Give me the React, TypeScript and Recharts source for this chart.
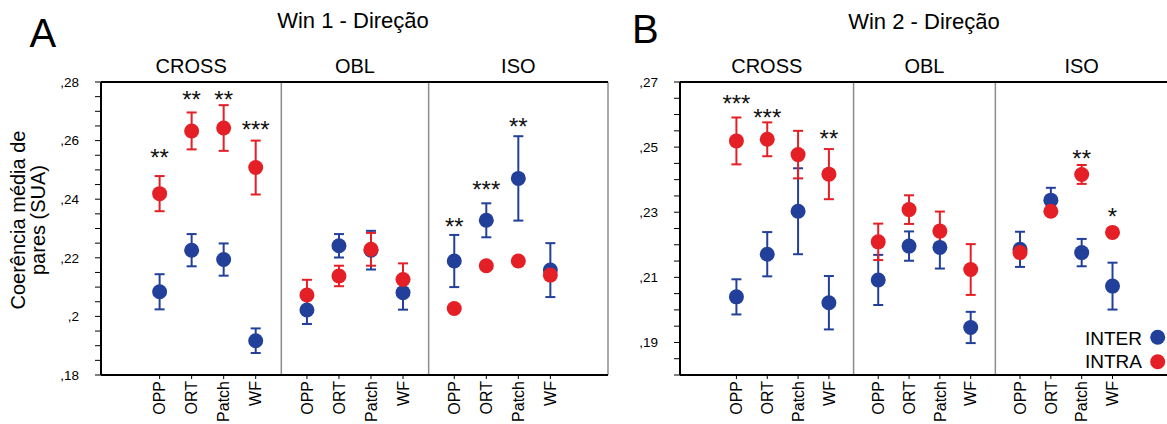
import React from 'react';
import {
  ComposedChart,
  Scatter,
  XAxis,
  YAxis,
  ErrorBar,
  ReferenceLine,
  ReferenceArea,
} from 'recharts';

const FONT = 'Liberation Sans, Arial, Helvetica, sans-serif';
const BLUE = '#22409a';
const RED = '#e41f25';

const groups = ['CROSS', 'OBL', 'ISO'];
const categories = ['OPP', 'ORT', 'Patch', 'WF'];

// order: CROSS (OPP, ORT, Patch, WF), OBL (...), ISO (...)
const win1InterMean = [0.2084, 0.2226, 0.2194, 0.1917, 0.2022, 0.2241, 0.2226, 0.2081, 0.2189, 0.2328, 0.2471, 0.2158];
const win1InterErr = [0.006, 0.0055, 0.0055, 0.0042, 0.0048, 0.004, 0.0066, 0.0058, 0.0089, 0.0058, 0.0144, 0.0092];
const win1IntraMean = [0.2419, 0.2633, 0.2643, 0.2508, 0.2073, 0.2138, 0.2229, 0.2126, 0.2027, 0.2173, 0.2189, 0.2141];
const win1IntraErr = [0.006, 0.0063, 0.0078, 0.0092, 0.0052, 0.0035, 0.0056, 0.0055, 0.0006, 0.0006, 0.0008, 0.0008];

const win2InterMean = [0.204, 0.2171, 0.2303, 0.2022, 0.2092, 0.2196, 0.2192, 0.1946, 0.2186, 0.2337, 0.2176, 0.2073];
const win2InterErr = [0.0054, 0.0068, 0.0132, 0.0082, 0.0077, 0.0045, 0.0065, 0.0048, 0.0054, 0.0038, 0.0042, 0.0072];
const win2IntraMean = [0.2519, 0.2524, 0.2477, 0.2417, 0.2209, 0.2308, 0.2242, 0.2124, 0.2176, 0.2303, 0.2416, 0.2238];
const win2IntraErr = [0.0072, 0.0052, 0.0073, 0.0077, 0.0056, 0.0044, 0.006, 0.0078, 0.001, 0.0008, 0.0029, 0.0012];

// significance marks: group index, category index, label, vertical position
const win1Sig = [
  { g: 0, c: 0, label: '**', y: 0.2556 },
  { g: 0, c: 1, label: '**', y: 0.2757 },
  { g: 0, c: 2, label: '**', y: 0.2757 },
  { g: 0, c: 3, label: '***', y: 0.2652 },
  { g: 2, c: 0, label: '**', y: 0.2323 },
  { g: 2, c: 1, label: '***', y: 0.2448 },
  { g: 2, c: 2, label: '**', y: 0.2664 },
];
const win2Sig = [
  { g: 0, c: 0, label: '***', y: 0.2647 },
  { g: 0, c: 1, label: '***', y: 0.2605 },
  { g: 0, c: 3, label: '**', y: 0.2539 },
  { g: 2, c: 2, label: '**', y: 0.248 },
  { g: 2, c: 3, label: '*', y: 0.2301 },
];

const win1YLabels = [0.18, 0.2, 0.22, 0.24, 0.26, 0.28];
const win2YLabels = [0.19, 0.21, 0.23, 0.25, 0.27];

// layout constants
const GROUP_STEP = 4.6;
const X_MIN = -1.83;
const X_MAX = 14.0;
const Y_MINOR = 0.005;

const pos = (g: number, c: number) => g * GROUP_STEP + c;

const fmtY = (v: number) => {
  let s = v.toFixed(2).replace(/0+$/, '');
  s = s.replace(/^0\./, ',');
  return s;
};

const dotShape = (color: string) => (p: any) => (
  <circle cx={p.cx} cy={p.cy} r={7.5} fill={color} />
);

const starShape = (p: any) => (
  <text
    x={p.cx}
    y={p.cy + 13}
    textAnchor="middle"
    fontSize={24}
    fontFamily={FONT}
    fill="#111"
  >
    {p.payload.label}
  </text>
);

type PanelProps = {
  interMean: number[];
  interErr: number[];
  intraMean: number[];
  intraErr: number[];
  sig: { g: number; c: number; label: string; y: number }[];
  yDomain: [number, number];
  yLabels: number[];
  width: number;
  margin: { top: number; right: number; bottom: number; left: number };
};

function Panel(props: PanelProps) {
  const { interMean, interErr, intraMean, intraErr, sig, yDomain, yLabels, width, margin } = props;
  const xTicks: number[] = [];
  const names = new Map<string, string>();
  groups.forEach((_, g) =>
    categories.forEach((cat, c) => {
      const x = pos(g, c);
      xTicks.push(x);
      names.set(x.toFixed(3), cat);
    })
  );
  const inter = xTicks.map((x, i) => ({ x, y: interMean[i], err: interErr[i] }));
  const intra = xTicks.map((x, i) => ({ x, y: intraMean[i], err: intraErr[i] }));
  const stars = sig.map((s) => ({ x: pos(s.g, s.c), y: s.y, label: s.label }));

  const yTicks: number[] = [];
  const n = Math.round((yDomain[1] - yDomain[0]) / Y_MINOR);
  for (let i = 0; i <= n; i++) yTicks.push(+(yDomain[0] + i * Y_MINOR).toFixed(4));

  const dividers = groups.slice(0, -1).map((_, g) => (pos(g, categories.length - 1) + pos(g + 1, 0)) / 2);
  const bounds = [X_MIN, ...dividers, X_MAX];

  const RotTick = (tp: any) => {
    const { x, y, payload } = tp;
    const label = names.get(Number(payload.value).toFixed(3)) || '';
    return (
      <text
        x={x}
        y={y}
        transform={`rotate(-90 ${x} ${y})`}
        textAnchor="end"
        dy="0.36em"
        fontSize={16}
        fontFamily={FONT}
        fill="#000"
      >
        {label}
      </text>
    );
  };

  return (
    <ComposedChart width={width} height={424} margin={margin}>
      {groups.map((gName, g) => (
        <ReferenceArea
          key={gName}
          x1={bounds[g]}
          x2={bounds[g + 1]}
          fill="#fff"
          fillOpacity={0}
          stroke="none"
          ifOverflow="visible"
          label={{ value: gName, position: 'top', offset: 9, fontSize: 20, fill: '#000', fontFamily: FONT }}
        />
      ))}
      <XAxis
        dataKey="x"
        type="number"
        domain={[X_MIN, X_MAX]}
        ticks={xTicks}
        interval={0}
        allowDataOverflow
        height={49}
        tickSize={4}
        tickMargin={2}
        axisLine={{ stroke: '#000', strokeWidth: 2 }}
        tickLine={{ stroke: '#000', strokeWidth: 1 }}
        tick={<RotTick />}
      />
      <XAxis
        xAxisId="top"
        orientation="top"
        dataKey="x"
        type="number"
        domain={[X_MIN, X_MAX]}
        ticks={xTicks}
        interval={0}
        allowDataOverflow
        height={1}
        tickSize={3}
        axisLine={{ stroke: '#000', strokeWidth: 2 }}
        tickLine={{ stroke: '#000', strokeWidth: 1 }}
        tick={false}
      />
      <YAxis
        dataKey="y"
        type="number"
        domain={yDomain}
        ticks={yTicks}
        interval={0}
        allowDataOverflow
        width={60}
        tickSize={6}
        tickMargin={16}
        axisLine={{ stroke: '#000', strokeWidth: 2 }}
        tickLine={{ stroke: '#000', strokeWidth: 1 }}
        tick={{ fontSize: 13.5, fill: '#000', fontFamily: FONT }}
        tickFormatter={(v: number) => (yLabels.some((l) => Math.abs(l - v) < 1e-6) ? fmtY(v) : '')}
      />
      {dividers.map((d) => (
        <ReferenceLine key={d} x={d} stroke="#8c8c8c" strokeWidth={1.5} />
      ))}
      <ReferenceLine x={X_MAX} stroke="#8c8c8c" strokeWidth={1.5} />
      <ReferenceLine y={yDomain[1]} stroke="#000" strokeWidth={2} />
      <ReferenceLine y={yDomain[0]} stroke="#000" strokeWidth={2} />
      <ReferenceLine x={X_MIN} stroke="#000" strokeWidth={2} />
      <Scatter data={inter} isAnimationActive={false} shape={dotShape(BLUE)}>
        <ErrorBar dataKey="err" direction="y" width={5} stroke={BLUE} strokeWidth={2} />
      </Scatter>
      <Scatter data={intra} isAnimationActive={false} shape={dotShape(RED)}>
        <ErrorBar dataKey="err" direction="y" width={5} stroke={RED} strokeWidth={2} />
      </Scatter>
      <Scatter data={stars} isAnimationActive={false} shape={starShape} />
    </ComposedChart>
  );
}

export default function App() {
  return (
    <div
      style={{
        position: 'absolute',
        left: 0,
        top: 0,
        width: 1167,
        height: 424,
        overflow: 'hidden',
        background: '#fff',
        fontFamily: FONT,
      }}
    >
      <div style={{ position: 'absolute', left: 0, top: 0 }}>
        <Panel
          interMean={win1InterMean}
          interErr={win1InterErr}
          intraMean={win1IntraMean}
          intraErr={win1IntraErr}
          sig={win1Sig}
          yDomain={[0.18, 0.28]}
          yLabels={win1YLabels}
          width={640}
          margin={{ top: 81, right: 32, bottom: 0, left: 41 }}
        />
      </div>
      <div style={{ position: 'absolute', left: 600, top: 0 }}>
        <Panel
          interMean={win2InterMean}
          interErr={win2InterErr}
          intraMean={win2IntraMean}
          intraErr={win2IntraErr}
          sig={win2Sig}
          yDomain={[0.18, 0.27]}
          yLabels={win2YLabels}
          width={600}
          margin={{ top: 81, right: 32, bottom: 0, left: 20 }}
        />
      </div>
      <svg
        width={1167}
        height={424}
        style={{ position: 'absolute', left: 0, top: 0, pointerEvents: 'none' }}
      >
        <text x={29.5} y={47} fontSize={40} fontFamily={FONT} fill="#000">A</text>
        <text x={632} y={43} fontSize={40} fontFamily={FONT} fill="#000">B</text>
        <text x={353} y={28.3} textAnchor="middle" fontSize={22} fontFamily={FONT} fill="#000">
          Win 1 - Direção
        </text>
        <text x={924} y={29} textAnchor="middle" fontSize={22} fontFamily={FONT} fill="#000">
          Win 2 - Direção
        </text>
        <text
          x={25}
          y={220}
          transform="rotate(-90 25 220)"
          textAnchor="middle"
          fontSize={20}
          fontFamily={FONT}
          fill="#000"
        >
          Coerência média de
        </text>
        <text
          x={45}
          y={220}
          transform="rotate(-90 45 220)"
          textAnchor="middle"
          fontSize={20}
          fontFamily={FONT}
          fill="#000"
        >
          pares (SUA)
        </text>
        <text x={1142} y={345} textAnchor="end" fontSize={19} fontFamily={FONT} fill="#000">INTER</text>
        <circle cx={1157.7} cy={337.3} r={7.5} fill={BLUE} />
        <text x={1142} y={368.3} textAnchor="end" fontSize={19} fontFamily={FONT} fill="#000">INTRA</text>
        <circle cx={1157.7} cy={361.7} r={7.5} fill={RED} />
      </svg>
    </div>
  );
}
